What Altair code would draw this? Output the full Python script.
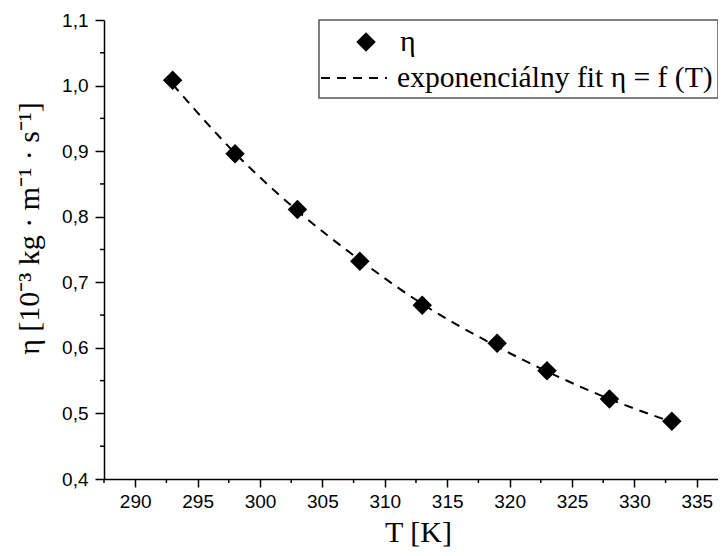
import altair as alt
import pandas as pd

# ---- data ----
T_values = [293, 298, 303, 308, 313, 319, 323, 328, 333]
eta_values = [1.008, 0.896, 0.811, 0.732, 0.665, 0.607, 0.565, 0.522, 0.488]

fit_T = [293, 298, 303, 308, 313, 318, 323, 328, 333]
fit_eta = [1.002, 0.897, 0.809, 0.734, 0.667, 0.612, 0.564, 0.522, 0.487]

x_major = [290, 295, 300, 305, 310, 315, 320, 325, 330, 335]
x_minor = [287.5, 292.5, 297.5, 302.5, 307.5, 312.5, 317.5, 322.5, 327.5, 332.5]
y_major = [0.4, 0.5, 0.6, 0.7, 0.8, 0.9, 1.0, 1.1]
y_minor = [0.45, 0.55, 0.65, 0.75, 0.85, 0.95, 1.05]

legend_labels = ["η", "exponenciálny fit η = f (T)"]

W, H = 614, 459

pts = pd.DataFrame({"T": T_values, "eta": eta_values})
fit = pd.DataFrame({"T": fit_T, "eta": fit_eta})
xmin_df = pd.DataFrame({"v": x_minor})
ymin_df = pd.DataFrame({"v": y_minor})
one = pd.DataFrame({"a": [0]})

xscale = alt.Scale(domain=[287.5, 336.7], nice=False, zero=False)
yscale = alt.Scale(domain=[0.4, 1.1], nice=False, zero=False)

xaxis = alt.Axis(
    title="T [K]", values=x_major, format="d",
    tickSize=8, labelOverlap=False, labelFlush=False, grid=False,
    domainColor="black", domainWidth=1.5, tickColor="black", tickWidth=1.5,
    labelFont="Liberation Sans", labelFontSize=19, labelColor="black", labelPadding=5,
    titleFont="Liberation Serif", titleFontSize=30, titleFontWeight="normal",
    titleColor="black", titleX=314, titleY=53, titleBaseline="middle",
)
yaxis = alt.Axis(
    title="η [10⁻³ kg · m⁻¹ · s⁻¹]", values=y_major,
    labelExpr="replace(format(datum.value, '.1f'), '.', ',')",
    tickSize=9, labelOverlap=False, labelFlush=False, grid=False,
    domainColor="black", domainWidth=1.5, tickColor="black", tickWidth=1.5,
    labelFont="Liberation Sans", labelFontSize=19, labelColor="black", labelPadding=7,
    titleFont="Liberation Serif", titleFontSize=30, titleFontWeight="normal",
    titleColor="black", titleX=-75, titleY=208, titleBaseline="middle", titleAngle=270,
)

line = alt.Chart(fit).mark_line(
    color="black", strokeWidth=2, strokeDash=[9, 7], interpolate="monotone"
).encode(
    x=alt.X("T:Q", scale=xscale, axis=xaxis),
    y=alt.Y("eta:Q", scale=yscale, axis=yaxis),
)

points = alt.Chart(pts).mark_point(
    shape="diamond", filled=True, size=380, color="black", opacity=1
).encode(
    x=alt.X("T:Q", scale=xscale),
    y=alt.Y("eta:Q", scale=yscale),
)

# minor ticks, placed through the same scales
xminor = alt.Chart(xmin_df).mark_rule(color="black", strokeWidth=1.5).encode(
    x=alt.X("v:Q", scale=xscale), y=alt.value(H), y2=alt.value(H + 4)
)
yminor = alt.Chart(ymin_df).mark_rule(color="black", strokeWidth=1.5).encode(
    y=alt.Y("v:Q", scale=yscale), x=alt.value(0), x2=alt.value(-4)
)

# legend box (drawn in pixel space of the plot)
lbox = alt.Chart(one).mark_rect(fill="white", stroke="#555555", strokeWidth=1.5).encode(
    x=alt.value(215), x2=alt.value(W), y=alt.value(0), y2=alt.value(78)
)
lsym = alt.Chart(one).mark_point(
    shape="diamond", filled=True, size=380, color="black", opacity=1
).encode(x=alt.value(262), y=alt.value(22))
ldash = alt.Chart(one).mark_rule(color="black", strokeWidth=2, strokeDash=[9, 7]).encode(
    x=alt.value(217), x2=alt.value(283), y=alt.value(58)
)
ltext1 = alt.Chart(one).mark_text(
    text=legend_labels[0], align="left", baseline="middle",
    font="Liberation Serif", fontSize=30, color="black"
).encode(x=alt.value(296), y=alt.value(22))
ltext2 = alt.Chart(one).mark_text(
    text=legend_labels[1], align="left", baseline="middle",
    font="Liberation Serif", fontSize=29.6, color="black"
).encode(x=alt.value(293), y=alt.value(58))

chart = alt.layer(line, points, xminor, yminor, lbox, lsym, ldash, ltext1, ltext2).properties(
    width=W, height=H,
    autosize=alt.AutoSizeParams(type="none"),
    padding={"left": 96, "top": 12, "right": 0, "bottom": 69},
    background="white",
).configure_view(stroke="transparent")

chart.save("out.html", embed_options={"renderer": "svg", "actions": False})
